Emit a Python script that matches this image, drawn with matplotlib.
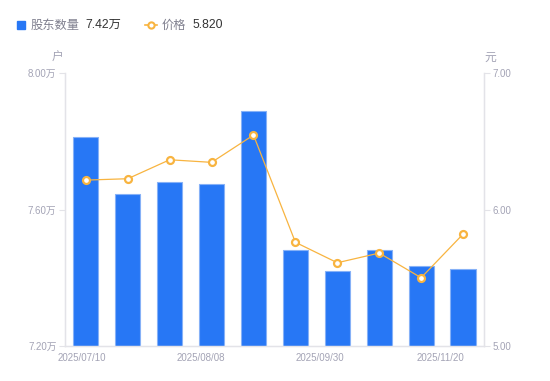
import numpy as np
from matplotlib import pyplot as plt
from matplotlib.patches import Rectangle
from matplotlib.lines import Line2D

plt.rcParams['font.family'] = ['Noto Sans CJK SC', 'DejaVu Sans']
TICK_FONT = ['Liberation Sans', 'Noto Sans CJK SC']

# data
dates = ["2025/07/10", "2025/07/24", "2025/07/31", "2025/08/08", "2025/08/20",
         "2025/08/29", "2025/09/30", "2025/10/20", "2025/10/31", "2025/11/20"]
holders = [7.813, 7.645, 7.681, 7.674, 7.889, 7.481, 7.420, 7.481, 7.434, 7.425]  # 万户
price = [6.216, 6.226, 6.365, 6.346, 6.546, 5.760, 5.610, 5.681, 5.500, 5.820]

left_ticks = [7.20, 7.60, 8.00]
right_ticks = [5.00, 6.00, 7.00]
x_label_idx = [0, 3, 6, 9]

BLUE = "#2777f5"
BLUE_EDGE = "#86b1f7"
ORANGE = "#f8b440"
GRAY = "#a3a3b5"
AXIS = "#e3e3e8"

fig = plt.figure(figsize=(5.5, 3.81), dpi=100)
ax = fig.add_axes([0.118, 0.092, 0.762, 0.716])
ax2 = ax.twinx()

x = np.arange(len(dates))
ax.bar(x, holders, width=0.6, color=BLUE, edgecolor=BLUE_EDGE, linewidth=0.8, zorder=2)
ax2.plot(x, price, color=ORANGE, lw=0.9, zorder=3,
         marker="o", ms=5, mfc="white", mec=ORANGE, mew=1.6)

ax.set_xlim(-0.5, len(dates) - 0.5)
ax.set_ylim(7.2, 8.0)
ax2.set_ylim(5.0, 7.0)

ax.set_yticks(left_ticks)
ax.set_yticklabels([f"{v:.2f}万" for v in left_ticks])
ax2.set_yticks(right_ticks)
ax2.set_yticklabels([f"{v:.2f}" for v in right_ticks])

# x labels sit evenly spread, not centred on bars
ax.set_xticks([-0.1, 2.74, 5.58, 8.45])
ax.set_xticklabels([dates[i] for i in x_label_idx])
ax.tick_params(axis="x", length=0, pad=5, labelsize=7, labelcolor=GRAY)
ax.tick_params(axis="y", length=4, width=0.8, color=AXIS, pad=2, labelsize=7, labelcolor=GRAY)
ax2.tick_params(axis="y", length=4, width=0.8, color=AXIS, pad=2, labelsize=7, labelcolor=GRAY)
for lbl in ax.get_xticklabels() + ax.get_yticklabels() + ax2.get_yticklabels():
    lbl.set_family(TICK_FONT)

for a in (ax, ax2):
    a.spines["top"].set_visible(False)
    for s in ("left", "right", "bottom"):
        a.spines[s].set_color(AXIS)
        a.spines[s].set_linewidth(0.9)

ax.text(-0.017, 1.059, "户", transform=ax.transAxes, fontsize=8.5, color=GRAY,
        ha="center", va="center")
ax2.text(1.014, 1.059, "元", transform=ax.transAxes, fontsize=8.5, color=GRAY,
         ha="center", va="center")

# legend
fig.patches.append(Rectangle((17 / 550, 1 - 29 / 381), 8 / 550, 8 / 381,
                             transform=fig.transFigure, color=BLUE, figure=fig))
fig.text(31 / 550, 1 - 25 / 381, "股东数量", fontsize=8.8, color="#80808f", va="center")
fig.text(85 / 550, 1 - 25 / 381, f"{holders[-1]:.2f}万", fontsize=8.8, color="#333333",
         va="center", family=TICK_FONT)
fig.lines.append(Line2D([145 / 550, 157 / 550], [1 - 25 / 381] * 2, transform=fig.transFigure,
                        color=ORANGE, lw=1.2, figure=fig))
fig.lines.append(Line2D([151 / 550], [1 - 25 / 381], transform=fig.transFigure, marker="o",
                        ms=4.5, mfc="white", mec=ORANGE, mew=1.5, figure=fig))
fig.text(162 / 550, 1 - 25 / 381, "价格", fontsize=8.8, color="#80808f", va="center")
fig.text(192 / 550, 1 - 25 / 381, f"{price[-1]:.3f}", fontsize=8.8, color="#333333",
         va="center", family=TICK_FONT)

fig.savefig("out.png", dpi=100)
